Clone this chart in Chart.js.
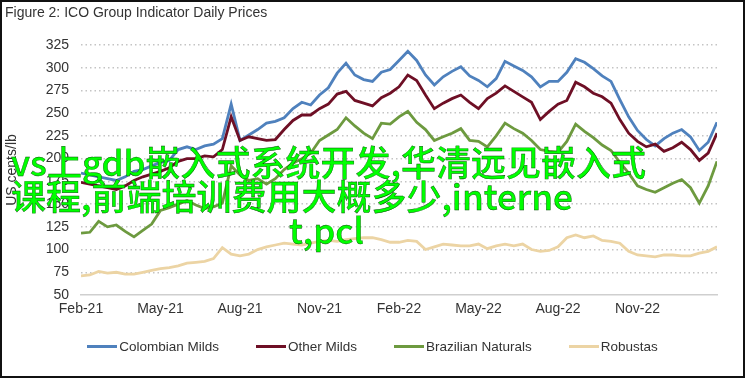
<!DOCTYPE html>
<html><head><meta charset="utf-8">
<script src="https://cdn.jsdelivr.net/npm/chart.js@4.4.1/dist/chart.umd.min.js"></script>
<style>
html,body{margin:0;padding:0;background:#fff;}
#wrap{position:relative;width:745px;height:378px;overflow:hidden;box-sizing:border-box;border:2px solid #111;}
#c{position:absolute;left:-2px;top:-2px;}
#title{position:absolute;left:3px;top:2px;font:14px 'Liberation Sans',sans-serif;color:#333;}
#legend{position:absolute;left:0;width:741px;top:337px;display:flex;justify-content:center;gap:37px;font:13.5px 'Liberation Sans',sans-serif;color:#333;}
#legend .it{display:flex;align-items:center;}
#legend .sw{display:inline-block;width:30px;height:3px;margin-right:2px;}
#ov{position:absolute;left:0;top:0;font-family:'Noto Sans CJK SC',sans-serif;font-size:35px;line-height:33px;font-weight:500;color:#00ff00;white-space:nowrap;-webkit-text-stroke:0.4px #0a4a0a;}
#ov span{position:absolute;}
</style></head>
<body>
<div id="wrap">
<canvas id="c" width="745" height="378"></canvas>
<div id="title">Figure 2: ICO Group Indicator Daily Prices</div>
<div id="legend"></div>
<div id="ov"><span style="left:9px;top:142px">vs上gdb嵌入式系统开发,华清远见嵌入式</span><span style="left:9px;top:176px">课程,前端培训费用大概多少,interne</span><span style="left:287px;top:210px">t,pcl</span></div>
</div>
<script>
const dates = [
"2021-02-01","2021-02-11","2021-02-21","2021-03-01","2021-03-11","2021-03-21",
"2021-04-01","2021-04-11","2021-04-21","2021-05-01","2021-05-11","2021-05-21",
"2021-06-01","2021-06-11","2021-06-21","2021-07-01","2021-07-11","2021-07-21",
"2021-08-01","2021-08-11","2021-08-21","2021-09-01","2021-09-11","2021-09-21",
"2021-10-01","2021-10-11","2021-10-21","2021-11-01","2021-11-11","2021-11-21",
"2021-12-01","2021-12-11","2021-12-21","2022-01-01","2022-01-11","2022-01-21",
"2022-02-01","2022-02-11","2022-02-21","2022-03-01","2022-03-11","2022-03-21",
"2022-04-01","2022-04-11","2022-04-21","2022-05-01","2022-05-11","2022-05-21",
"2022-06-01","2022-06-11","2022-06-21","2022-07-01","2022-07-11","2022-07-21",
"2022-08-01","2022-08-11","2022-08-21","2022-09-01","2022-09-11","2022-09-21",
"2022-10-01","2022-10-11","2022-10-21","2022-11-01","2022-11-11","2022-11-21",
"2022-12-01","2022-12-11","2022-12-21","2023-01-01","2023-01-11","2023-01-21",
"2023-02-01"];
const colombianMilds = [
184,182,180, 178,176,180, 186,188,192, 196,198,210, 213,210,214, 216,222,260,
220,226,232, 239,241,245, 255,262,259, 270,278,294, 305,292,287, 285,295,298,
308,318,308, 292,281,290, 296,301,291, 286,279,288, 307,302,297, 290,279,285,
285,295,310, 306,299,291, 285,265,246, 231,221,214, 222,228,232, 224,209,218, 240];
const otherMilds = [
174,172,170, 168,166,170, 176,180,183, 186,190,197, 200,200,203, 202,210,246,
220,224,222, 220,221,232, 242,248,248, 255,260,271, 274,264,261, 258,267,272,
279,292,286, 270,255,261, 266,270,262, 255,266,272, 280,274,268, 262,243,252,
260,264,284, 279,272,268, 261,243,228, 219,213,216, 208,212,218, 210,198,206, 228];
const brazilianNaturals = [
118,119,131, 125,127,120, 114,121,128, 143,146,150, 154,149,145, 147,151,192,
182,176,178, 172,178,188, 195,200,206, 220,226,232, 245,236,228, 222,239,238,
246,252,240, 232,220,224, 228,233,220, 219,213,225, 239,233,228, 220,210,208,
207,219,238, 230,223,215, 209,196,184, 170,166,163, 168,173,177, 168,151,170, 197];
const robustas = [
71,72,76, 74,75,73, 73,75,77, 79,80,82, 85,86,87, 90,102,95,
93,95,100, 103,105,107, 106,105,107, 109,110,109, 111,112,113, 113,111,108,
108,110,109, 100,103,106, 105,104,104, 106,101,104, 106,104,106, 100,98,99,
103,113,116, 113,115,110, 109,107,98, 94,93,92, 94,94,93, 93,96,98, 103];
const seriesNames = ["Colombian Milds","Other Milds","Brazilian Naturals","Robustas"];
const seriesColors = ["#4f81bd","#6e0f25","#6d9a3f","#ecd4a4"];
const xTickLabels = ["Feb-21","May-21","Aug-21","Nov-21","Feb-22","May-22","Aug-22","Nov-22"];
const yTicks = [50,75,100,125,150,175,200,225,250,275,300,325];

function monthIndex(s){const [y,m,d]=s.split('-').map(Number);return (y-2021)*12+(m-2)+(d-1)/30;}
const xs = dates.map(monthIndex);
const seriesValues=[colombianMilds,otherMilds,brazilianNaturals,robustas];
const font={family:"'Liberation Sans',sans-serif",size:14};
const ds = seriesNames.map((n,i)=>({label:n,data:seriesValues[i].map((v,j)=>({x:xs[j],y:v})),borderColor:seriesColors[i],borderWidth:2.8,pointRadius:0,tension:0}));
new Chart(document.getElementById('c'),{
 type:'line',
 data:{datasets:ds.slice().reverse()},
 options:{
  responsive:false,animation:false,
  layout:{padding:{left:4,top:45,right:28,bottom:58}},
  plugins:{legend:{display:false},tooltip:{enabled:false}},
  scales:{
   x:{type:'linear',min:0,max:24,
      grid:{display:false,drawTicks:false},
      border:{display:true,color:'#cfcfcf',width:1.5},
      afterBuildTicks:s=>{s.ticks=xTickLabels.map((l,i)=>({value:i*3}));},
      afterFit:s=>{s.height=25;},
      ticks:{autoSkip:false,maxRotation:0,padding:6,color:'#333',font,callback:(v)=>xTickLabels[Math.round(v/3)]}},
   y:{min:50,max:325,
      afterBuildTicks:s=>{s.ticks=yTicks.map(v=>({value:v}));},
      afterFit:s=>{s.width=77;},
      grid:{drawTicks:false,color:c=>c.tick&&c.tick.value===50?'rgba(0,0,0,0)':'#c4c4c4',lineWidth:1.5},
      border:{display:false,dash:[1.5,3]},
      ticks:{padding:12,color:'#333',font},
      title:{display:true,text:'US cents/lb',color:'#333',font,padding:{top:0,bottom:4}}}
  }
 }
});
const lg=document.getElementById('legend');
seriesNames.forEach((n,i)=>{const d=document.createElement('div');d.className='it';d.innerHTML='<span class="sw" style="background:'+seriesColors[i]+'"></span>'+n;lg.appendChild(d);});
</script>
</body></html>
